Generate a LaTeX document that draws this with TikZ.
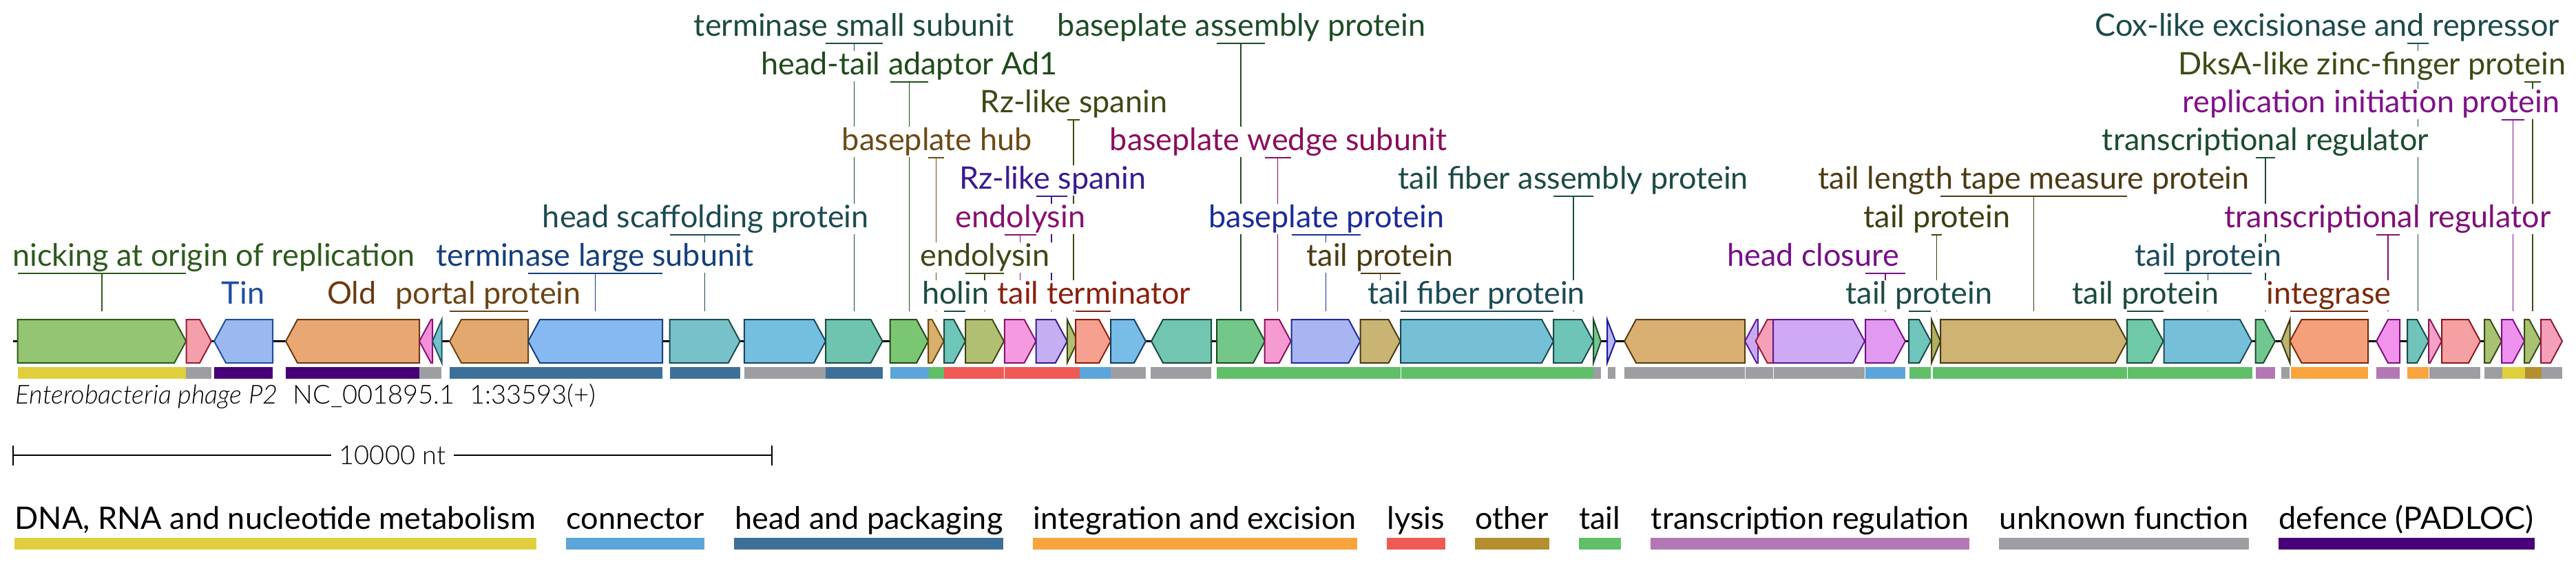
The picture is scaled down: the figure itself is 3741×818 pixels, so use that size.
\documentclass[tikz,border=0pt]{standalone}
\usepackage{fontspec}
\setmainfont{Lato}
\newfontfamily\lightfont{Lato Light}[ItalicFont={Lato Light Italic}]
\usetikzlibrary{calc}
\pgfdeclarelayer{bg}\pgfdeclarelayer{back}\pgfdeclarelayer{fg}\pgfsetlayers{back,bg,main,fg}
\newcommand\labfont{\fontsize{11.25}{13}\selectfont}
\newcommand\smfont{\lightfont\fontsize{9.5}{11}\selectfont}
\newcommand\gc[3]{\definecolor{f#1}{HTML}{#2}\definecolor{s#1}{HTML}{#3}}
\gc{1}{93C572}{2D5A1B}\gc{2}{F59FAB}{9B1B34}\gc{3}{9BB9F0}{1E4E9E}\gc{4}{E9A773}{6B3A12}
\gc{5}{F291D9}{8E0F74}\gc{6}{73C2CC}{1F5A60}\gc{7}{E2A86E}{6B4416}\gc{8}{86B9F2}{133F7C}
\gc{9}{76C2C8}{1B4B50}\gc{10}{74BFE0}{1A4660}\gc{11}{6FC4B0}{1C4A40}\gc{12}{7BC672}{1F4B1A}
\gc{13}{D8B06B}{6B4A14}\gc{14}{6EC5B9}{1B4A44}\gc{15}{B1BF72}{3E4814}\gc{16}{F59AE0}{8A1070}
\gc{17}{C4AFF2}{3A1A8F}\gc{18}{B1BF72}{3E4814}\gc{19}{F6A190}{8A1F0E}\gc{20}{78BDE8}{144060}
\gc{21}{71C5B1}{1B4A3E}\gc{22}{73C789}{1C4C26}\gc{23}{F59BD1}{8A0E5C}\gc{24}{A9B4F3}{1A2B98}
\gc{25}{C9B473}{4B3A12}\gc{26}{76C0D5}{1A4A56}\gc{27}{6FC4B8}{1B4A46}\gc{28}{73C78B}{1C4C30}
\gc{29}{B9B8F5}{1B1AA0}\gc{30}{DAAF72}{5A3B10}\gc{31}{C9A9F2}{5A1B9A}\gc{32}{F4A0B6}{9C1A40}
\gc{33}{D0A9F4}{5A1B92}\gc{34}{E29AF1}{761088}\gc{35}{6FC4BC}{1B4A46}\gc{36}{B0B060}{3E3E10}
\gc{37}{CEB373}{4B3B14}\gc{38}{6FC8A8}{1B4A3A}\gc{39}{75C0D8}{1A4A5A}\gc{40}{72C790}{1B4C30}
\gc{41}{BBB370}{3F3A10}\gc{42}{F5A07B}{7A2A08}\gc{43}{F192EB}{7F0F79}\gc{44}{70C4BC}{1B4A4A}
\gc{45}{F4A0C8}{8A1A5A}\gc{46}{F5A0A2}{8A1A1E}\gc{47}{A9C172}{3A4A14}\gc{48}{EF91EF}{80108A}
\gc{49}{A9C172}{3A4A14}\gc{50}{F4A0B8}{8A1A3C}
\definecolor{cDNA}{HTML}{DFCF3C}\definecolor{cCon}{HTML}{5BA5DA}\definecolor{cHead}{HTML}{3D7099}
\definecolor{cInt}{HTML}{F9A43C}\definecolor{cLys}{HTML}{F05A56}\definecolor{cOth}{HTML}{B38F30}
\definecolor{cTail}{HTML}{60BF68}\definecolor{cTrn}{HTML}{B378B3}\definecolor{cUnk}{HTML}{9D9EA2}
\definecolor{cDef}{HTML}{470077}\definecolor{txtgray}{HTML}{000000}
\newcommand\fgene[3]{\pgfmathsetmacro\gHx{max(#1,#2-17)}%
  \filldraw[gene, fill=f#3, draw=s#3] (#1,464) -- (\gHx,464) -- (#2,495.5) -- (\gHx,527) -- (#1,527) -- cycle;}
\newcommand\rgene[3]{\pgfmathsetmacro\gHx{min(#2,#1+17)}%
  \filldraw[gene, fill=f#3, draw=s#3] (#2,464) -- (\gHx,464) -- (#1,495.5) -- (\gHx,527) -- (#2,527) -- cycle;}
\newcommand\catbar[3]{\fill[#3] (#1,533) rectangle (#2,550);}
\newcommand\glab[7]{%
  \pgfmathsetmacro\gBy{#2+11}\pgfmathsetmacro\gMx{(#3+#4)/2}%
  \node[lab, text=#6] (#1) at (#5,#2) {#7};
  \coordinate (#1-l) at (#3,\gBy); \coordinate (#1-r) at (#4,\gBy);
  \coordinate (#1-m) at (\gMx,\gBy); \coordinate (#1-g) at (\gMx,452);
  \begin{pgfonlayer}{bg}\draw[conn, draw=#6] (#1-m) -- (#1-g);\end{pgfonlayer}
  \begin{pgfonlayer}{fg}\draw[conn, draw=#6] (#1-l) -- (#1-r);\end{pgfonlayer}}
\begin{document}
\begin{tikzpicture}[x=0.25pt,y=-0.25pt,
  gene/.style={line width=0.5pt},
  lab/.style={font=\labfont, anchor=base, inner xsep=1pt, inner ysep=0pt, fill=white, text height=8.6pt, text depth=2.6pt},
  conn/.style={line width=0.35pt},
  legtext/.style={font=\labfont, anchor=base west, inner sep=0pt, text=black}]
\useasboundingbox (0,0) rectangle (3741,818);
\begin{pgfonlayer}{back}\fill[white] (0,0) rectangle (3741,818);\end{pgfonlayer}
% backbone
\draw[line width=0.7pt, black] (19,495.5) -- (3721,495.5);
% genes
\fgene{25.7}{270.2}{1}\fgene{270.6}{307}{2}\rgene{311}{396}{3}\rgene{415}{609}{4}
\rgene{609}{628}{5}\rgene{628}{641.6}{6}\rgene{653}{767}{7}\rgene{767}{962}{8}
\fgene{972.6}{1074.7}{9}\fgene{1080.8}{1199}{10}\fgene{1199}{1281.6}{11}\fgene{1292.7}{1348}{12}
\fgene{1348}{1370.6}{13}\fgene{1371}{1402}{14}\fgene{1402}{1458}{15}\fgene{1458.8}{1504.5}{16}
\fgene{1504.5}{1549.8}{17}\fgene{1549.8}{1565}{18}\fgene{1562}{1613}{19}\fgene{1613}{1664}{20}
\rgene{1672}{1759}{21}\fgene{1767}{1837}{22}\fgene{1836.7}{1874.7}{23}\fgene{1875.5}{1975.5}{24}
\fgene{1975.5}{2033.5}{25}\fgene{2034}{2256}{26}\fgene{2256}{2314}{27}\fgene{2314}{2325}{28}
\fgene{2334}{2346}{29}\rgene{2359}{2534}{30}\rgene{2534}{2553}{31}\rgene{2549.6}{2575}{32}
\fgene{2575}{2708}{33}\fgene{2709}{2767}{34}\fgene{2772}{2804}{35}\fgene{2805}{2818}{36}
\fgene{2818}{3089}{37}\fgene{3089}{3141.7}{38}\fgene{3142.5}{3270}{39}\fgene{3275.6}{3304}{40}
\rgene{3313}{3325.5}{41}\rgene{3325.5}{3439}{42}\rgene{3451}{3485}{43}\fgene{3496}{3527}{44}
\fgene{3527}{3546}{45}\fgene{3546}{3602}{46}\fgene{3608}{3633}{47}\fgene{3633}{3666}{48}
\fgene{3666}{3690}{49}\fgene{3690}{3721}{50}
% category bars
\catbar{26}{270}{cDNA}\catbar{270}{307}{cUnk}\catbar{311}{396}{cDef}\catbar{415}{609}{cDef}
\catbar{609}{641}{cUnk}\catbar{653}{962}{cHead}\catbar{973}{1075}{cHead}\catbar{1081}{1199}{cUnk}
\catbar{1199}{1282}{cHead}\catbar{1293}{1349}{cCon}\catbar{1349}{1371}{cTail}\catbar{1371}{1458}{cLys}
\catbar{1459}{1568}{cLys}\catbar{1568}{1613}{cCon}\catbar{1613}{1664}{cUnk}\catbar{1671}{1759}{cUnk}
\catbar{1767}{2034}{cTail}\catbar{2035}{2314}{cTail}\catbar{2314}{2325}{cUnk}\catbar{2335}{2346}{cUnk}
\catbar{2359}{2534}{cUnk}\catbar{2535}{2575}{cUnk}\catbar{2576}{2708}{cUnk}\catbar{2709}{2767}{cCon}
\catbar{2773}{2804}{cTail}\catbar{2807}{3089}{cTail}\catbar{3090}{3271}{cTail}\catbar{3276}{3304}{cTrn}
\catbar{3313}{3325}{cUnk}\catbar{3327}{3439}{cInt}\catbar{3451}{3485}{cTrn}\catbar{3496}{3527}{cInt}
\catbar{3528}{3602}{cUnk}\catbar{3608}{3634}{cUnk}\catbar{3634}{3667}{cDNA}\catbar{3667}{3691}{cOth}
\catbar{3691}{3721}{cUnk}
% labels
\node[lab, text=s3] (tin) at (353,441) {Tin};
\node[lab, text=s4] (old) at (511,441) {Old};
\glab{nick}{386}{25.7}{270.2}{310.5}{s1}{nicking at origin of replication}
\glab{portal}{441}{653}{767}{709}{s7}{portal protein}
\glab{tls}{386}{767}{962}{864}{s8}{terminase large subunit}
\glab{hsp}{330}{972.6}{1074.7}{1024.8}{s9}{head scaffolding protein}
\glab{tss}{52}{1199}{1281.6}{1240.3}{s11}{terminase small subunit}
\glab{hta}{108}{1292.7}{1348}{1320.5}{s12}{head-tail adaptor Ad1}
\glab{bph}{218}{1348}{1370.6}{1360.7}{s13}{baseplate hub}
\glab{hol}{441}{1371}{1402}{1387.7}{s14}{holin}
\glab{endoA}{386}{1402}{1458}{1430.6}{s15}{endolysin}
\glab{endoB}{330}{1458.8}{1504.5}{1482}{s16}{endolysin}
\glab{rzA}{274}{1504.5}{1549.8}{1529}{s17}{Rz-like spanin}
\glab{rzB}{163}{1549.8}{1568}{1559.6}{s18}{Rz-like spanin}
\glab{tterm}{441}{1562}{1613}{1588.8}{s19}{tail terminator}
\glab{bpa}{52}{1767}{1837}{1802.9}{s22}{baseplate assembly protein}
\glab{bpw}{218}{1836.7}{1874.7}{1856.5}{s23}{baseplate wedge subunit}
\glab{bpp}{330}{1875.5}{1975.5}{1926.3}{s24}{baseplate protein}
\glab{tpA}{386}{1975.5}{2033.5}{2004}{s25}{tail protein}
\glab{tfp}{441}{2034}{2256}{2144}{s26}{tail fiber protein}
\glab{tfa}{274}{2256}{2314}{2284.7}{s27}{tail fiber assembly protein}
\glab{hc}{386}{2709}{2767}{2633}{s34}{head closure}
\glab{tpB}{441}{2772}{2804}{2787}{s35}{tail protein}
\glab{tpC}{330}{2805}{2820}{2813}{s36}{tail protein}
\glab{tape}{274}{2818}{3089}{2953.5}{s37}{tail length tape measure protein}
\glab{tpD}{441}{3089}{3141.7}{3116}{s38}{tail protein}
\glab{tpE}{386}{3142.5}{3270}{3207}{s39}{tail protein}
\glab{trA}{218}{3275.6}{3304}{3289.8}{s40}{transcriptional regulator}
\glab{intg}{441}{3325.5}{3439}{3382}{s42}{integrase}
\glab{trB}{330}{3451}{3485}{3467.5}{s43}{transcriptional regulator}
\glab{cox}{52}{3496}{3527}{3379.8}{s44}{Cox-like excisionase and repressor}
\glab{rep}{163}{3633}{3666}{3443.5}{s48}{replication initiation protein}
\glab{dks}{108}{3666}{3690}{3444.8}{s49}{DksA-like zinc-finger protein}
% genome name
\node[font=\smfont, anchor=base west, inner sep=0pt, text=txtgray] (gname) at (22,586)
  {\itshape Enterobacteria phage P2\upshape\hspace{5.5pt}NC\_001895.1\hspace{5.5pt}1:33593(+)};
% scale bar
\coordinate (sbL) at (19,661); \coordinate (sbR) at (1121,661);
\draw[line width=0.7pt] (sbL) -- (sbR);
\draw[line width=0.7pt] ($(sbL)+(0,-14)$) -- ($(sbL)+(0,15)$);
\draw[line width=0.7pt] ($(sbR)+(0,-14)$) -- ($(sbR)+(0,15)$);
\node[font=\smfont, text=black, fill=white, inner xsep=3pt, inner ysep=1pt] (sbt) at ($(sbL)!0.5!(sbR)$) {10000 nt};
% legend
\coordinate (lgA) at (0,781); \coordinate (lgB) at (0,798);
\node[legtext] (k1) at (20.6,768) {DNA, RNA and nucleotide metabolism};
\node[legtext] (k2) at ($(k1.base east)+(43,0)$) {connector};
\node[legtext] (k3) at ($(k2.base east)+(43,0)$) {head and packaging};
\node[legtext] (k4) at ($(k3.base east)+(43,0)$) {integration and excision};
\node[legtext] (k5) at ($(k4.base east)+(43,0)$) {lysis};
\node[legtext] (k6) at ($(k5.base east)+(43,0)$) {other};
\node[legtext] (k7) at ($(k6.base east)+(43,0)$) {tail};
\node[legtext] (k8) at ($(k7.base east)+(43,0)$) {transcription regulation};
\node[legtext] (k9) at ($(k8.base east)+(43,0)$) {unknown function};
\node[legtext] (k10) at ($(k9.base east)+(43,0)$) {defence (PADLOC)};
\fill[cDNA] (k1.west |- lgA) rectangle (k1.east |- lgB);
\fill[cCon] (k2.west |- lgA) rectangle (k2.east |- lgB);
\fill[cHead] (k3.west |- lgA) rectangle (k3.east |- lgB);
\fill[cInt] (k4.west |- lgA) rectangle (k4.east |- lgB);
\fill[cLys] (k5.west |- lgA) rectangle (k5.east |- lgB);
\fill[cOth] (k6.west |- lgA) rectangle (k6.east |- lgB);
\fill[cTail] (k7.west |- lgA) rectangle (k7.east |- lgB);
\fill[cTrn] (k8.west |- lgA) rectangle (k8.east |- lgB);
\fill[cUnk] (k9.west |- lgA) rectangle (k9.east |- lgB);
\fill[cDef] (k10.west |- lgA) rectangle (k10.east |- lgB);
\end{tikzpicture}
\end{document}
